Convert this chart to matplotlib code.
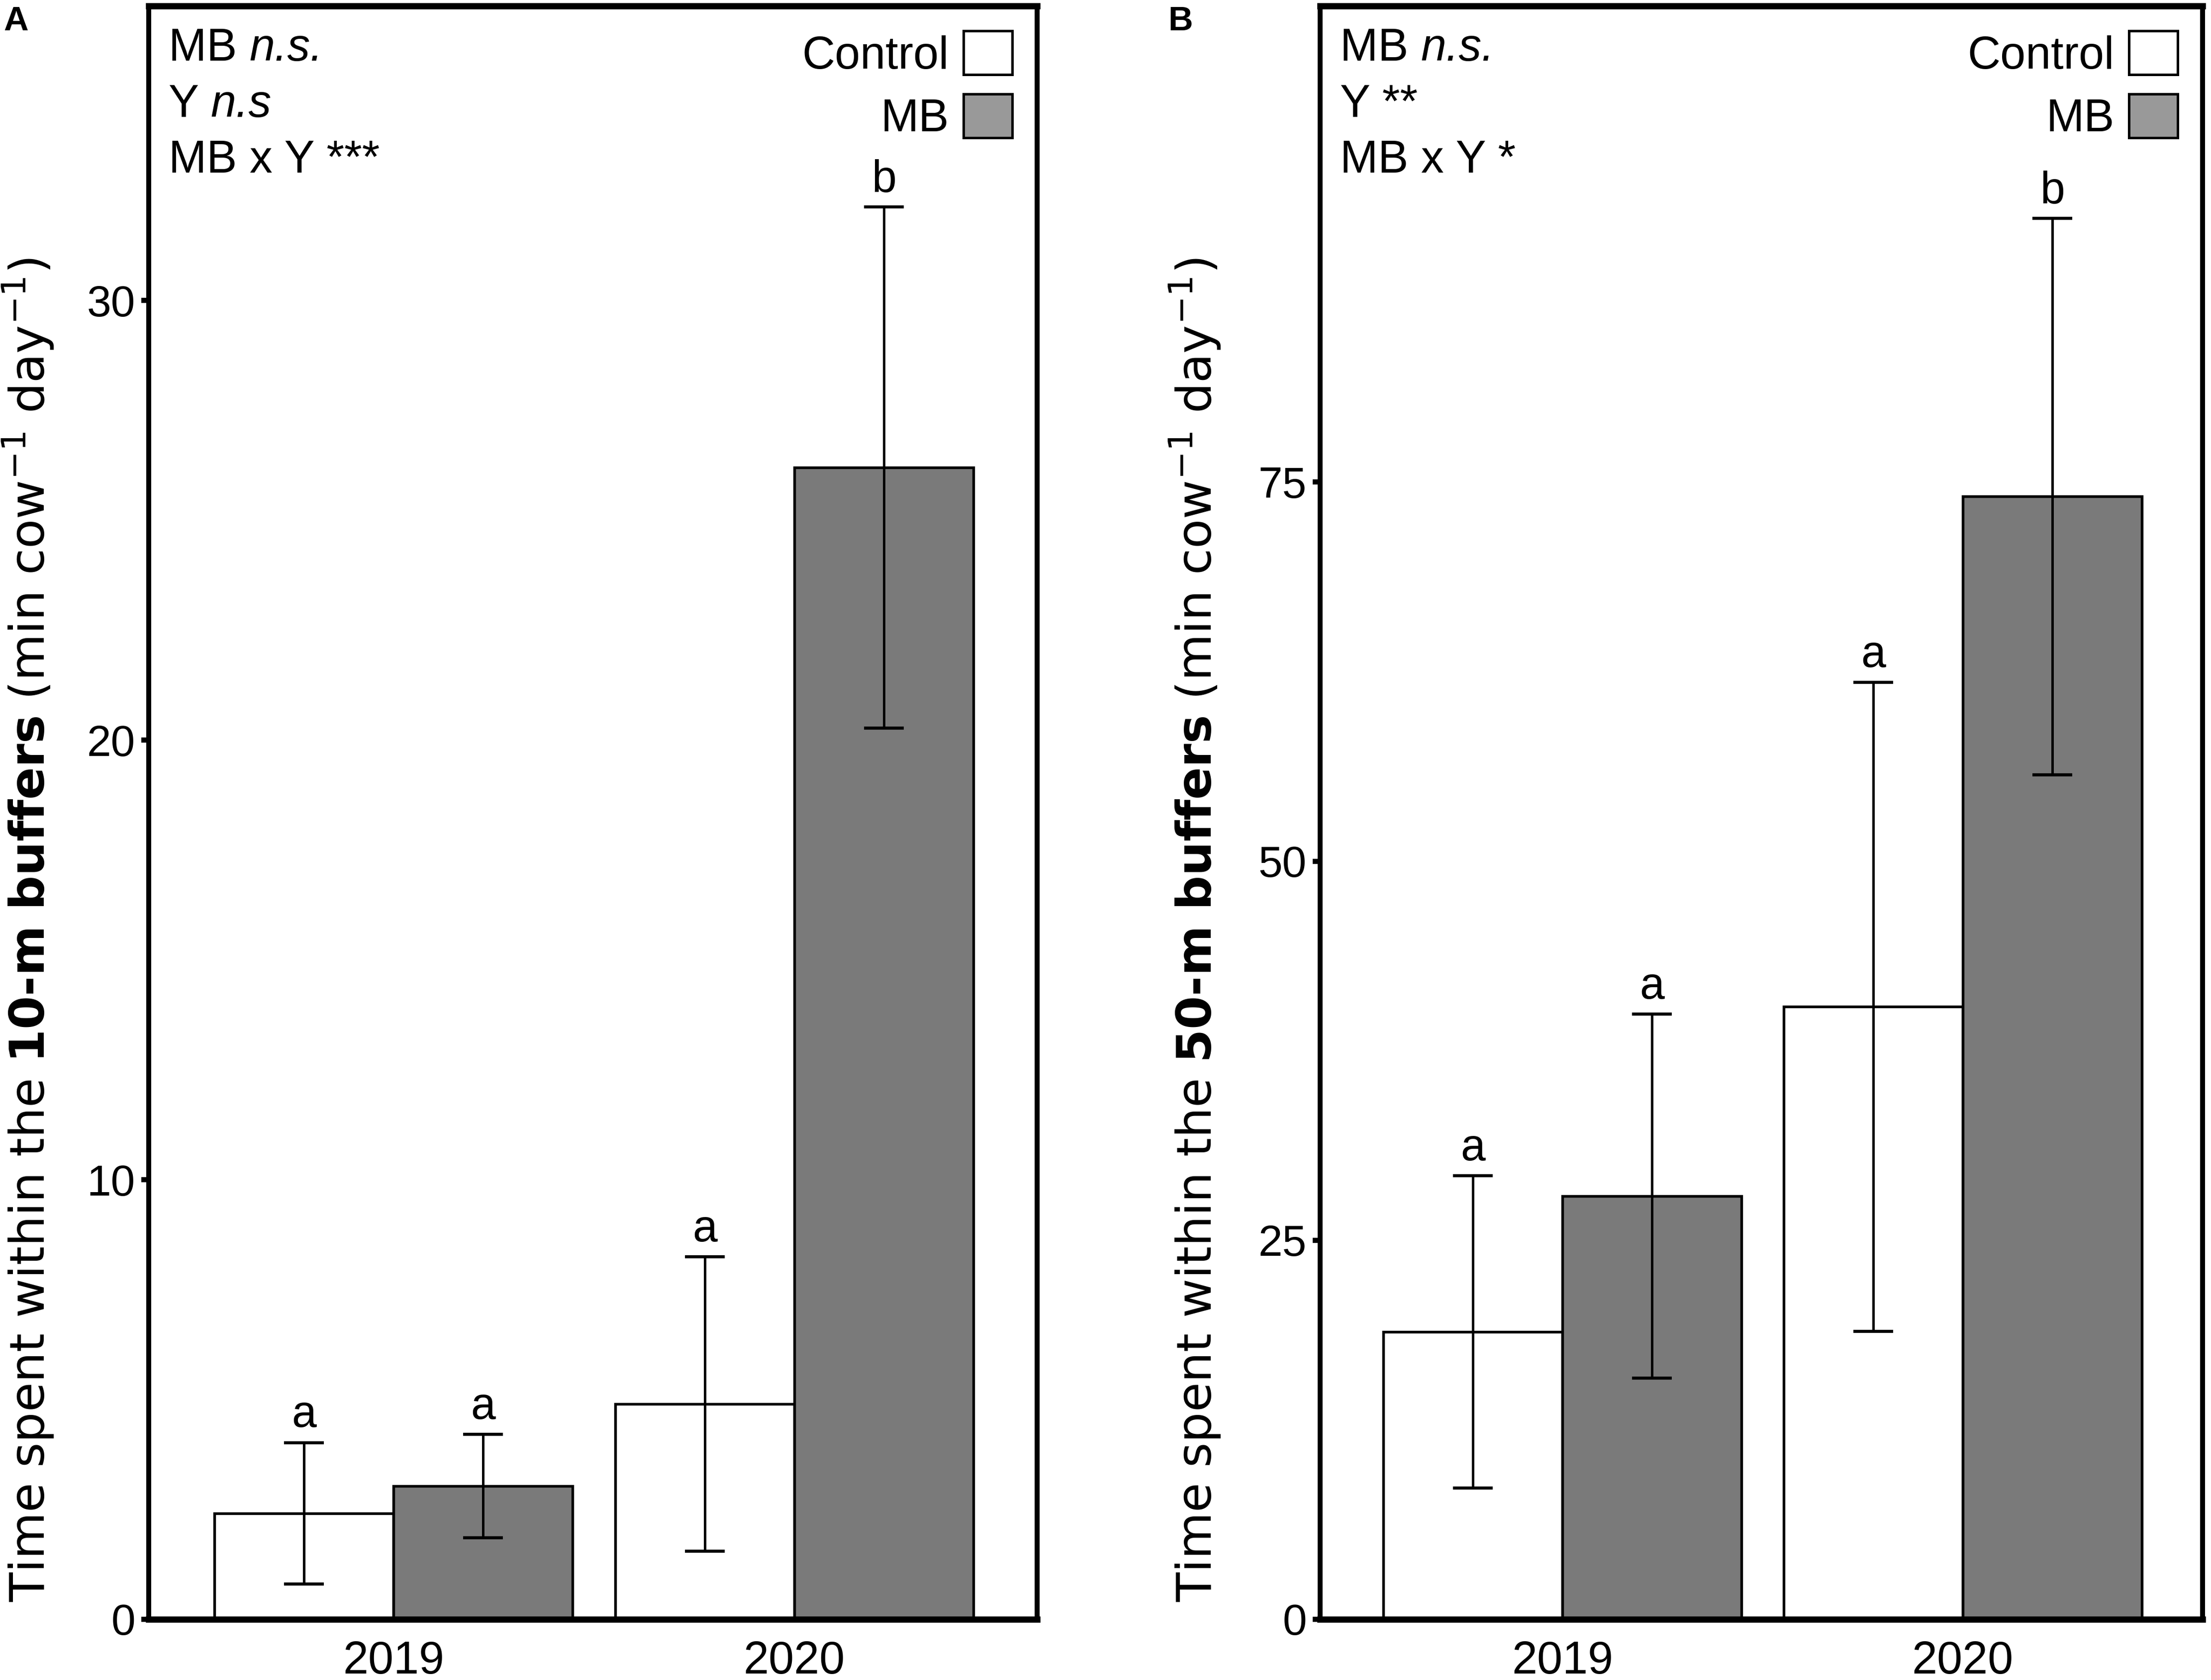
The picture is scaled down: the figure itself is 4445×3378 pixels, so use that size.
import matplotlib
matplotlib.use("Agg")
import matplotlib.pyplot as plt
from matplotlib.patches import Patch
import numpy as np

plt.rcParams['font.family'] = ['Liberation Sans', 'DejaVu Sans']
plt.rcParams['mathtext.fontset'] = 'custom'
plt.rcParams['mathtext.rm'] = 'DejaVu Sans'
plt.rcParams['mathtext.it'] = 'DejaVu Sans:italic'
plt.rcParams['mathtext.bf'] = 'DejaVu Sans:bold'

# data (mean +/- error)
years = ['2019', '2020']
groups = ['Control', 'MB']

ctrl_10 = [2.41, 4.90]
ctrl_10_err = [1.61, 3.35]
mb_10 = [3.03, 26.2]
mb_10_err = [1.18, 5.93]
letters_10 = [['a', 'a'], ['a', 'b']]   # [ctrl, mb] per year
# (plain part, italic part)
stats_10 = [('MB ', 'n.s.'), ('Y ', 'n.s'), ('MB x Y ***', '')]
ticks_10 = [0, 10, 20, 30]

ctrl_50 = [18.95, 40.4]
ctrl_50_err = [10.3, 21.4]
mb_50 = [27.9, 74.05]
mb_50_err = [12.0, 18.35]
letters_50 = [['a', 'a'], ['a', 'b']]
stats_50 = [('MB ', 'n.s.'), ('Y **', ''), ('MB x Y *', '')]
ticks_50 = [0, 25, 50, 75]

bar_w = 0.447
mb_color = '#7a7a7a'
legend_mb = '#999999'

W, H = 4445, 3378
fig = plt.figure(figsize=(W / 300, H / 300), dpi=300)
ax_a = fig.add_axes([299 / W, 122 / H, (2085 - 299) / W, (3256 - 12) / H])
ax_b = fig.add_axes([2654 / W, 122 / H, (4428 - 2654) / W, (3256 - 12) / H])


def draw_panel(ax, ctrl, ctrl_err, mb, mb_err, letters, stats, ticks, ymax, xlim, bold_part, label_x):
    x = np.arange(len(years))
    ax.bar(x - bar_w / 2, ctrl, bar_w, color='white', edgecolor='black', linewidth=1.3, zorder=2)
    ax.bar(x + bar_w / 2, mb, bar_w, color=mb_color, edgecolor='black', linewidth=1.3, zorder=2)
    ax.errorbar(x - bar_w / 2, ctrl, yerr=ctrl_err, fmt='none', ecolor='black',
                elinewidth=1.2, capsize=9.6, capthick=1.5, zorder=3)
    ax.errorbar(x + bar_w / 2, mb, yerr=mb_err, fmt='none', ecolor='black',
                elinewidth=1.2, capsize=9.6, capthick=1.5, zorder=3)

    for i in range(len(years)):
        ax.annotate(letters[i][0], (x[i] - bar_w / 2, ctrl[i] + ctrl_err[i]),
                    xytext=(0, 7.5), textcoords='offset points', ha='center',
                    va='baseline', fontsize=21.5)
        ax.annotate(letters[i][1], (x[i] + bar_w / 2, mb[i] + mb_err[i]),
                    xytext=(0, 7.5), textcoords='offset points', ha='center',
                    va='baseline', fontsize=21.5)

    # effect significance, plain text followed by an italic part
    for k, (plain, ital) in enumerate(stats):
        t = ax.annotate(plain, (0, 1), xycoords='axes fraction', xytext=(9.5, -31 - 27 * k),
                        textcoords='offset points', ha='left', va='bottom', fontsize=22)
        if ital:
            ax.annotate(ital, (1, 0), xycoords=t, ha='left', va='bottom',
                        fontsize=22, style='italic')

    handles = [Patch(facecolor='white', edgecolor='black', linewidth=1.2),
               Patch(facecolor=legend_mb, edgecolor='black', linewidth=1.2)]
    ax.legend(handles, groups, loc='upper right', frameon=False, markerfirst=False,
              fontsize=22, handlelength=1.06, handleheight=1.1, handletextpad=0.32,
              labelspacing=0.35, borderaxespad=0.4, borderpad=0.15)

    ax.set_xlim(*xlim)
    ax.set_ylim(0, ymax)
    ax.set_xticks(x)
    ax.set_xticklabels(years)
    ax.set_yticks(ticks)
    ax.tick_params(axis='x', length=0, pad=10, labelsize=22)
    ax.tick_params(axis='y', length=3.5, width=2.5, pad=3, labelsize=21)
    for side in ['left', 'right']:
        ax.spines[side].set_linewidth(2.4)
    for side in ['top', 'bottom']:
        ax.spines[side].set_linewidth(3.0)

    ax.set_ylabel(r'Time spent within the $\bf{' + bold_part + r'}$ (min cow$^{-1}$ day$^{-1}$)',
                  fontsize=23.2, family='DejaVu Sans')
    ax.yaxis.set_label_coords(label_x, 1 - 1870 / H, transform=fig.transFigure)


draw_panel(ax_a, ctrl_10, ctrl_10_err, mb_10, mb_10_err, letters_10, stats_10,
           ticks_10, 36.7, (-0.611, 1.606), '10\u2010m\\ buffers', 112 / W)
draw_panel(ax_b, ctrl_50, ctrl_50_err, mb_50, mb_50_err, letters_50, stats_50,
           ticks_50, 106.4, (-0.605, 1.599), '50\u2010m\\ buffers', 2458 / W)

fig.text(7 / W, 1 - 11 / H, 'A', fontsize=16.5, fontweight='bold', ha='left', va='top')
fig.text(2348 / W, 1 - 11 / H, 'B', fontsize=16.5, fontweight='bold', ha='left', va='top')

fig.savefig('out.png', dpi=300, facecolor='white')
